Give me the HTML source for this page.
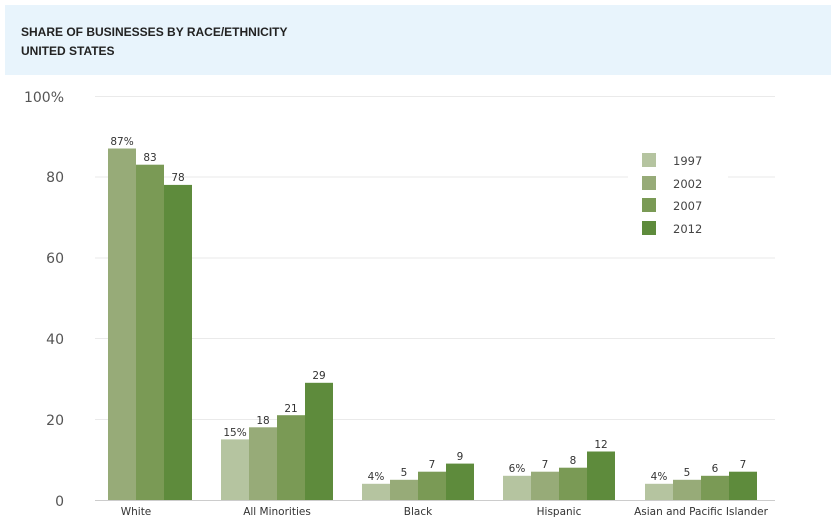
<!DOCTYPE html>
<html><head><style>
body{margin:0;background:#fff;width:837px;height:526px;overflow:hidden;font-family:"Liberation Sans",sans-serif}
</style></head><body>
<svg width="837" height="526" xmlns="http://www.w3.org/2000/svg" font-family="Liberation Sans, sans-serif">
<rect x="5" y="5" width="826" height="70" fill="#e8f4fc"/>
<text x="21" y="36" font-size="12" font-weight="bold" fill="#222">SHARE OF BUSINESSES BY RACE/ETHNICITY</text>
<text x="21" y="55" font-size="12" font-weight="bold" fill="#222">UNITED STATES</text>
<g stroke="#eaeaea" stroke-width="1">
<line x1="95" y1="96.5" x2="775" y2="96.5"/><line x1="95" y1="177" x2="775" y2="177"/>
<line x1="95" y1="258" x2="775" y2="258"/><line x1="95" y1="338.5" x2="775" y2="338.5"/>
<line x1="95" y1="419.5" x2="775" y2="419.5"/>
</g>
<line x1="95" y1="500.5" x2="775" y2="500.5" stroke="#ccc"/>
<g font-size="14" fill="#555" text-anchor="end" font-family="DejaVu Sans, sans-serif">
<text x="64" y="102">100%</text><text x="64" y="182">80</text><text x="64" y="263">60</text>
<text x="64" y="344">40</text><text x="64" y="425">20</text><text x="64" y="506">0</text>
</g>
<g>
<rect x="108" y="148.5" width="28" height="351.5" fill="#97ab78"/>
<rect x="136" y="164.7" width="28" height="335.3" fill="#7a9a55"/>
<rect x="164" y="184.9" width="28" height="315.1" fill="#5e8b3c"/>
<rect x="221" y="439.4" width="28" height="60.6" fill="#b5c4a0"/>
<rect x="249" y="427.3" width="28" height="72.7" fill="#97ab78"/>
<rect x="277" y="415.2" width="28" height="84.8" fill="#7a9a55"/>
<rect x="305" y="382.8" width="28" height="117.2" fill="#5e8b3c"/>
<rect x="362" y="483.8" width="28" height="16.2" fill="#b5c4a0"/>
<rect x="390" y="479.8" width="28" height="20.2" fill="#97ab78"/>
<rect x="418" y="471.7" width="28" height="28.3" fill="#7a9a55"/>
<rect x="446" y="463.6" width="28" height="36.4" fill="#5e8b3c"/>
<rect x="503" y="475.8" width="28" height="24.2" fill="#b5c4a0"/>
<rect x="531" y="471.7" width="28" height="28.3" fill="#97ab78"/>
<rect x="559" y="467.7" width="28" height="32.3" fill="#7a9a55"/>
<rect x="587" y="451.5" width="28" height="48.5" fill="#5e8b3c"/>
<rect x="645" y="483.8" width="28" height="16.2" fill="#b5c4a0"/>
<rect x="673" y="479.8" width="28" height="20.2" fill="#97ab78"/>
<rect x="701" y="475.8" width="28" height="24.2" fill="#7a9a55"/>
<rect x="729" y="471.7" width="28" height="28.3" fill="#5e8b3c"/>
</g>
<g font-size="10.5" fill="#333" text-anchor="middle" font-family="DejaVu Sans, sans-serif">
<text x="122" y="145">87%</text><text x="150" y="161">83</text><text x="178" y="181">78</text>
<text x="235" y="436">15%</text><text x="263" y="424">18</text><text x="291" y="412">21</text><text x="319" y="379">29</text>
<text x="376" y="480">4%</text><text x="404" y="476">5</text><text x="432" y="468">7</text><text x="460" y="460">9</text>
<text x="517" y="472">6%</text><text x="545" y="468">7</text><text x="573" y="464">8</text><text x="601" y="448">12</text>
<text x="659" y="480">4%</text><text x="687" y="476">5</text><text x="715" y="472">6</text><text x="743" y="468">7</text>
</g>
<g font-size="10.5" fill="#333" text-anchor="middle" font-family="DejaVu Sans, sans-serif">
<text x="136" y="515">White</text><text x="277" y="515">All Minorities</text><text x="418" y="515">Black</text>
<text x="559" y="515">Hispanic</text><text x="701" y="515">Asian and Pacific Islander</text>
</g>
<rect x="628" y="145" width="100" height="98" fill="#fff"/>
<rect x="642" y="153" width="14" height="14" fill="#b5c4a0"/>
<rect x="642" y="176" width="14" height="14" fill="#97ab78"/>
<rect x="642" y="198" width="14" height="14" fill="#7a9a55"/>
<rect x="642" y="221" width="14" height="14" fill="#5e8b3c"/>
<g font-size="11.5" fill="#444" font-family="DejaVu Sans, sans-serif">
<text x="673" y="165">1997</text><text x="673" y="188">2002</text><text x="673" y="210">2007</text><text x="673" y="233">2012</text>
</g>
</svg>
</body></html>
